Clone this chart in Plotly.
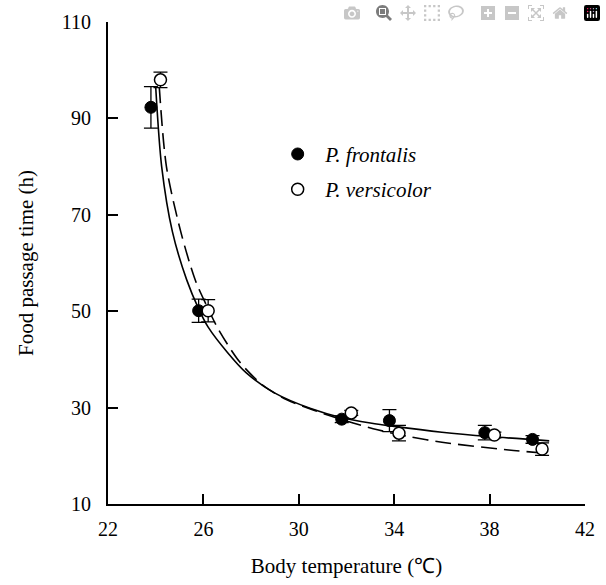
import plotly.graph_objects as go

# measured points (mean +- SE), jittered around 24, 26, 32, 34, 38, 40 degC
frontalis_x = [23.8, 25.8, 31.8, 33.8, 37.8, 39.8]
frontalis_y = [92.3, 50.1, 27.6, 27.3, 24.8, 23.4]
frontalis_err = [4.3, 2.4, 0.7, 2.3, 1.5, 0.8]

versicolor_x = [24.2, 26.2, 32.2, 34.2, 38.2, 40.2]
versicolor_y = [98.0, 50.1, 28.9, 24.7, 24.3, 21.4]
versicolor_err = [1.6, 2.3, 0.5, 1.6, 0.6, 1.3]

# fitted curves
fit_f_x = [24.0, 24.25, 24.7, 25.3, 25.8, 26.2, 27.0, 27.8, 29.0, 30.5, 31.8, 33.0, 34.0, 36.0, 38.0, 40.5]
fit_f_y = [96.5, 80.0, 66.5, 56.5, 50.5, 46.7, 41.5, 37.2, 33.0, 29.8, 27.9, 26.8, 26.1, 24.9, 24.0, 23.1]

fit_v_x = [24.15, 24.45, 25.05, 25.67, 26.2, 26.6, 27.5, 28.5, 29.5, 30.6, 32.0, 33.3, 34.5, 36.0, 38.8, 40.4]
fit_v_y = [96.5, 80.0, 66.5, 56.3, 50.5, 46.5, 39.6, 34.6, 31.6, 29.5, 27.2, 25.4, 24.1, 22.8, 21.2, 20.5]

xticks = [22, 26, 30, 34, 38, 42]
yticks = [10, 30, 50, 70, 90, 110]

serif = "Liberation Serif, Times New Roman, serif"
tickfont = dict(family=serif, size=20, color="black")
titlefont = dict(family=serif, size=21, color="black")

fig = go.Figure()

fig.add_trace(go.Scatter(x=fit_f_x, y=fit_f_y, mode="lines", line=dict(color="black", width=1.6, shape="spline", smoothing=0.8),
                         showlegend=False, hoverinfo="skip"))
fig.add_trace(go.Scatter(x=fit_v_x, y=fit_v_y, mode="lines", line=dict(color="black", width=1.6, dash="16px,7px", shape="spline", smoothing=0.8),
                         showlegend=False, hoverinfo="skip"))

fig.add_trace(go.Scatter(x=frontalis_x, y=frontalis_y, mode="markers", name="<i>P. frontalis</i>", legendgroup="f",
                         marker=dict(symbol="circle", size=12, color="black", line=dict(color="black", width=1)),
                         error_y=dict(type="data", array=frontalis_err, color="black", thickness=1.3, width=7)))
fig.add_trace(go.Scatter(x=versicolor_x, y=versicolor_y, mode="markers", name="<i>P. versicolor</i>", legendgroup="v",
                         marker=dict(symbol="circle", size=12, color="white", line=dict(color="black", width=1.5)),
                         error_y=dict(type="data", array=versicolor_err, color="black", thickness=1.3, width=7)))

fig.update_layout(
    width=606, height=585,
    margin=dict(l=108, r=11, t=20, b=76),
    plot_bgcolor="white", paper_bgcolor="white",
    font=tickfont,
    showlegend=True,
    legend=dict(x=0.34, y=0.768, xanchor="left", yanchor="top", bgcolor="rgba(0,0,0,0)",
                font=dict(family=serif, size=21, color="black"),
                tracegroupgap=5, itemwidth=45),
)
fig.update_xaxes(range=[22, 42], tickvals=xticks, ticks="inside", ticklen=10, tickwidth=2, tickcolor="black",
                 showline=True, linewidth=2, linecolor="black", showgrid=False, zeroline=False,
                 tickfont=tickfont, ticklabelstandoff=6,
                 title=dict(text="Body temperature (℃)", font=titlefont, standoff=19))
fig.update_yaxes(range=[10, 110], tickvals=yticks, ticks="inside", ticklen=10, tickwidth=2, tickcolor="black",
                 showline=True, linewidth=2, linecolor="black", showgrid=False, zeroline=False,
                 tickfont=tickfont, ticklabelstandoff=11,
                 title=dict(text="Food passage time (h)", font=titlefont, standoff=22))

# drop the browser's default 8px body margin so the figure fills the window exactly
fig.write_html("out.html", post_script="document.body.style.margin='0';document.body.style.overflow='hidden';")
